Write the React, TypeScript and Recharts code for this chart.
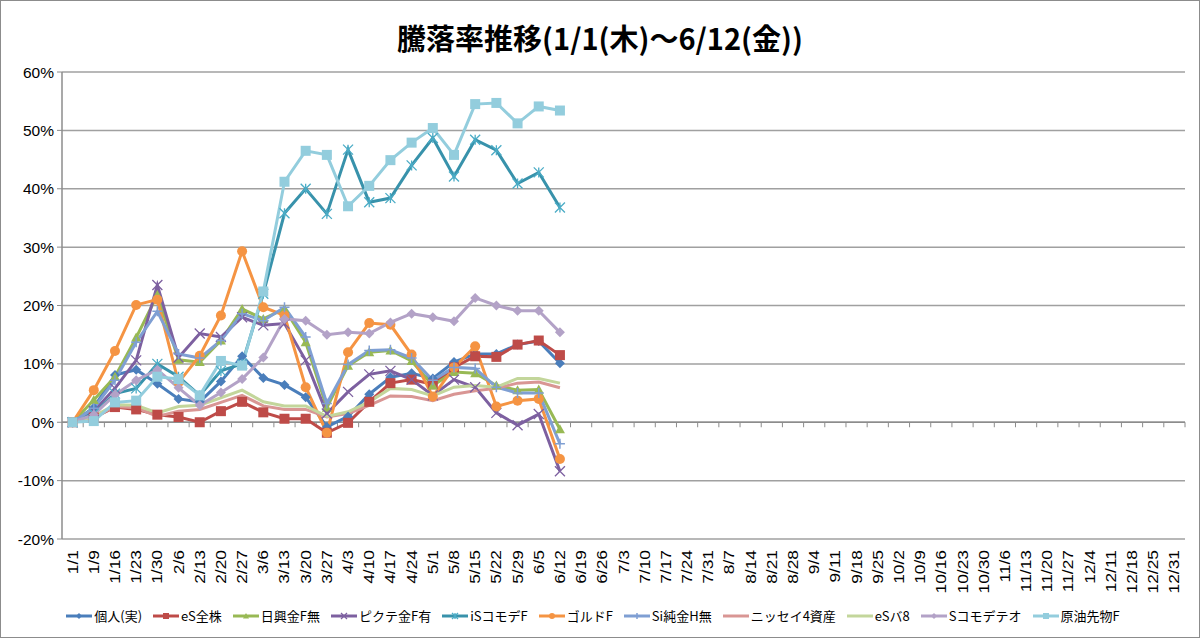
import React from 'react';
import {
  CartesianGrid,
  Legend,
  Line,
  LineChart,
  ReferenceLine,
  XAxis,
  YAxis,
} from 'recharts';

// weekly dates shown on the category axis
const dates = [
  '1/1', '1/9', '1/16', '1/23', '1/30', '2/6', '2/13', '2/20', '2/27',
  '3/6', '3/13', '3/20', '3/27', '4/3', '4/10', '4/17', '4/24', '5/1',
  '5/8', '5/15', '5/22', '5/29', '6/5', '6/12', '6/19', '6/26', '7/3',
  '7/10', '7/17', '7/24', '7/31', '8/7', '8/14', '8/21', '8/28', '9/4',
  '9/11', '9/18', '9/25', '10/2', '10/9', '10/16', '10/23', '10/30',
  '11/6', '11/13', '11/20', '11/27', '12/4', '12/11', '12/18', '12/25',
  '12/31',
];

const yTicks = [-20, -10, 0, 10, 20, 30, 40, 50, 60];

// % change (1/1 .. 6/12)
const kojin = [0, 2.5, 8.1, 9.0, 6.6, 4.0, 3.5, 7.0, 11.3, 7.6, 6.4, 4.3, -0.8, 1.0, 4.8, 7.7, 8.4, 7.5, 10.3, 11.7, 11.7, 13.3, 13.9, 10.1];
const esZenkabu = [0, 0.8, 2.6, 2.2, 1.3, 0.9, 0.0, 1.9, 3.5, 1.7, 0.6, 0.6, -1.8, -0.1, 3.5, 6.7, 7.3, 6.5, 9.4, 11.3, 11.2, 13.3, 14.0, 11.5];
const nikkoGold = [0, 3.8, 7.8, 14.5, 21.8, 10.7, 10.3, 14.0, 19.4, 17.7, 19.4, 13.7, 2.5, 9.7, 12.0, 12.3, 10.5, 6.3, 8.6, 8.4, 6.3, 5.5, 5.6, -1.2];
const pictetGold = [0, 1.9, 5.8, 10.6, 23.5, 11.1, 15.2, 14.6, 18.0, 16.6, 16.9, 10.6, 1.5, 5.2, 8.2, 8.8, 7.3, 4.6, 7.3, 6.0, 1.6, -0.5, 1.4, -8.4];
const isCommo = [0, 1.5, 4.9, 5.8, 10.0, 7.8, 4.6, 8.8, 10.0, 22.0, 35.8, 40.0, 35.7, 46.7, 37.7, 38.4, 44.0, 48.7, 42.1, 48.4, 46.6, 40.9, 42.8, 36.8];
const goldF = [0, 5.5, 12.2, 20.1, 21.0, 6.8, 11.4, 18.3, 29.3, 19.7, 18.3, 6.0, -1.8, 12.0, 17.0, 16.7, 11.6, 4.4, 9.4, 13.0, 2.7, 3.7, 4.0, -6.3];
const siGold = [0, 2.4, 7.2, 13.7, 19.0, 11.7, 11.0, 14.0, 18.6, 17.4, 19.7, 14.6, 3.2, 9.9, 12.3, 12.4, 11.0, 7.2, 9.4, 9.2, 6.0, 5.0, 5.0, -3.7];
const nissay4 = [0, 0.8, 2.7, 2.5, 1.0, 1.9, 2.2, 3.4, 4.6, 2.8, 2.2, 2.2, 0.9, 1.5, 2.9, 4.5, 4.4, 3.7, 4.8, 5.4, 5.8, 6.7, 6.9, 5.9];
const esBalance8 = [0, 1.0, 3.0, 2.9, 1.6, 2.7, 2.9, 4.2, 5.5, 3.5, 2.8, 2.8, 1.0, 1.8, 3.5, 5.8, 5.6, 4.5, 6.0, 6.3, 6.0, 7.5, 7.5, 6.7];
const sCommoTeo = [0, 1.3, 4.7, 7.2, 9.0, 5.9, 2.9, 5.1, 7.4, 11.1, 17.7, 17.4, 15.0, 15.4, 15.2, 17.1, 18.6, 18.0, 17.3, 21.3, 20.0, 19.1, 19.1, 15.4];
const crudeOil = [0, 0.2, 3.4, 3.7, 7.8, 7.4, 4.6, 10.5, 9.7, 22.4, 41.2, 46.5, 45.8, 37.0, 40.5, 44.9, 47.9, 50.4, 45.8, 54.5, 54.7, 51.2, 54.1, 53.4];

type Shape = 'diamond' | 'square' | 'triangle' | 'x' | 'star' | 'circle' | 'plus' | 'none';

const series: { key: string; name: string; values: number[]; color: string; shape: Shape }[] = [
  { key: 's0', name: '個人(実)', values: kojin, color: '#4a7ebb', shape: 'diamond' },
  { key: 's1', name: 'eS全株', values: esZenkabu, color: '#be4b48', shape: 'square' },
  { key: 's2', name: '日興金F無', values: nikkoGold, color: '#98b954', shape: 'triangle' },
  { key: 's3', name: 'ピクテ金F有', values: pictetGold, color: '#7d60a0', shape: 'x' },
  { key: 's4', name: 'iSコモデF', values: isCommo, color: '#3892ab', shape: 'star' },
  { key: 's5', name: 'ゴルドF', values: goldF, color: '#f59443', shape: 'circle' },
  { key: 's6', name: 'Si純金H無', values: siGold, color: '#7f9fd3', shape: 'plus' },
  { key: 's7', name: 'ニッセイ4資産', values: nissay4, color: '#d99694', shape: 'none' },
  { key: 's8', name: 'eSバ8', values: esBalance8, color: '#c3d69b', shape: 'none' },
  { key: 's9', name: 'Sコモデテオ', values: sCommoTeo, color: '#b3a2c7', shape: 'diamond' },
  { key: 's10', name: '原油先物F', values: crudeOil, color: '#93cddd', shape: 'square' },
];

const data = dates.map((date, i) => {
  const row: Record<string, string | number | undefined> = { date };
  series.forEach((s) => {
    row[s.key] = s.values[i];
  });
  return row;
});

const FONT = "'Liberation Sans', Arial, sans-serif";
const JP_FONT = "'Noto Sans CJK JP', 'Liberation Sans', sans-serif";

const markerPath = (shape: Shape, cx: number, cy: number, r: number, color: string) => {
  switch (shape) {
    case 'diamond':
      return <path d={`M${cx},${cy - r}L${cx + r},${cy}L${cx},${cy + r}L${cx - r},${cy}Z`} fill={color} />;
    case 'square':
      return <rect x={cx - r} y={cy - r} width={r * 2} height={r * 2} fill={color} />;
    case 'triangle':
      return <path d={`M${cx},${cy - r}L${cx + r},${cy + r * 0.8}L${cx - r},${cy + r * 0.8}Z`} fill={color} />;
    case 'circle':
      return <circle cx={cx} cy={cy} r={r} fill={color} />;
    case 'x':
      return (
        <path
          d={`M${cx - r},${cy - r}L${cx + r},${cy + r}M${cx - r},${cy + r}L${cx + r},${cy - r}`}
          stroke={color}
          strokeWidth={1.3}
        />
      );
    case 'star':
      return (
        <path
          d={`M${cx - r},${cy - r}L${cx + r},${cy + r}M${cx - r},${cy + r}L${cx + r},${cy - r}M${cx},${cy - r}L${cx},${cy + r}`}
          stroke={color}
          strokeWidth={1.3}
        />
      );
    case 'plus':
      return (
        <path
          d={`M${cx - r},${cy}L${cx + r},${cy}M${cx},${cy - r}L${cx},${cy + r}`}
          stroke={color}
          strokeWidth={1.5}
        />
      );
    default:
      return null;
  }
};

const makeDot = (shape: Shape, color: string) => (props: any) => {
  const { cx, cy, index, value } = props;
  if (shape === 'none' || value == null || cx == null || cy == null) {
    return <g key={`d-${index}`} />;
  }
  const markerColor = shape === 'star' ? '#4bacc6' : color;
  return <g key={`d-${index}`}>{markerPath(shape, cx, cy, 5, markerColor)}</g>;
};

const DateTick = (props: any) => {
  const { x, y, payload } = props;
  return (
    <text
      transform={`translate(${x + 5},${y + 3}) rotate(-90) scale(1.2,0.95)`}
      textAnchor="end"
      fontSize={14.5}
      fontFamily={FONT}
      fill="#000"
    >
      {payload.value}
    </text>
  );
};

// horizontal axis crosses at 0%, with tick marks between categories
const ZeroAxis = (props: any) => {
  const { x1, x2, y1 } = props;
  if (x1 == null || x2 == null || y1 == null) return <g />;
  const step = (x2 - x1) / dates.length;
  return (
    <g>
      <line x1={x1} x2={x2} y1={y1} y2={y1} stroke="#8c8c8c" strokeWidth={1.5} />
      {dates.map((d, i) => (
        <line
          key={d}
          x1={x1 + step * (i + 1)}
          x2={x1 + step * (i + 1)}
          y1={y1}
          y2={y1 + 5}
          stroke="#8c8c8c"
          strokeWidth={1}
        />
      ))}
    </g>
  );
};

const LegendContent = () => (
  <div
    style={{
      display: 'flex',
      justifyContent: 'center',
      alignItems: 'center',
      gap: 11,
      fontFamily: JP_FONT,
      fontSize: 13,
      color: '#000',
    }}
  >
    {series.map((s) => (
      <div key={s.key} style={{ display: 'flex', alignItems: 'center' }}>
        <svg width={26} height={12} style={{ marginRight: 2 }}>
          <line x1={0} x2={26} y1={6} y2={6} stroke={s.color} strokeWidth={3} />
          {markerPath(s.shape, 13, 6, 3, s.shape === 'star' ? '#4bacc6' : s.color)}
        </svg>
        <span>{s.name}</span>
      </div>
    ))}
  </div>
);

const App = () => {
  return (
    <div
      style={{
        position: 'relative',
        width: 1200,
        height: 638,
        boxSizing: 'border-box',
        border: '1px solid #8c8c8c',
        background: '#fff',
        overflow: 'hidden',
      }}
    >
      <style>{'body{margin:0;}'}</style>
      <div
        style={{
          position: 'absolute',
          top: 16,
          left: 0,
          width: '100%',
          textAlign: 'center',
          fontFamily: JP_FONT,
          fontWeight: 700,
          fontSize: 29,
          lineHeight: '40px',
          color: '#000',
        }}
      >
        騰落率推移(1/1(木)～6/12(金))
      </div>
      <LineChart
        width={1198}
        height={636}
        data={data}
        margin={{ top: 71, right: 14, bottom: 1, left: 0 }}
      >
        <CartesianGrid vertical={false} stroke="#a0a0a0" strokeWidth={1.5} />
        <XAxis
          dataKey="date"
          interval={0}
          padding={{ left: 10.6, right: 10.6 }}
          tick={<DateTick />}
          tickLine={false}
          axisLine={false}
          height={67}
        />
        <YAxis
          domain={[-20, 60]}
          ticks={yTicks}
          tickFormatter={(v) => `${v}%`}
          width={61}
          tick={{ fontSize: 15.5, fill: '#000', fontFamily: FONT }}
          axisLine={{ stroke: '#8c8c8c', strokeWidth: 1.5 }}
          tickLine={{ stroke: '#8c8c8c' }}
          tickSize={5}
          tickMargin={3}
          interval={0}
        />
        <ReferenceLine y={0} shape={<ZeroAxis />} ifOverflow="extendDomain" />
        <Legend verticalAlign="bottom" height={30} content={<LegendContent />} />
        {series.map((s) => (
          <Line
            key={s.key}
            type="linear"
            dataKey={s.key}
            name={s.name}
            stroke={s.color}
            strokeWidth={3}
            dot={makeDot(s.shape, s.color)}
            activeDot={false}
            isAnimationActive={false}
          />
        ))}
      </LineChart>
    </div>
  );
};

export default App;
